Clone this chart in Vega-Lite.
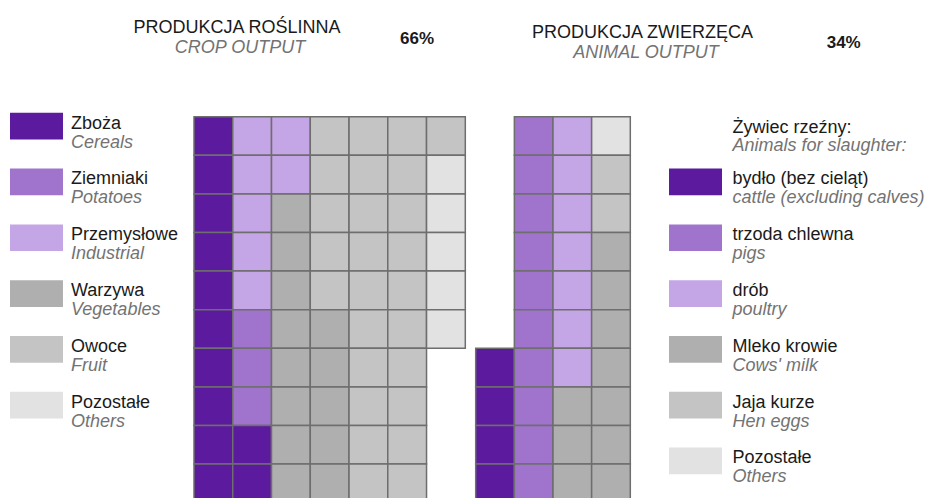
{
  "$schema": "https://vega.github.io/schema/vega-lite/v6.json",
  "width": 932,
  "height": 498,
  "padding": 0,
  "autosize": {"type": "none"},
  "config": {"view": {"stroke": null}, "font": "Liberation Sans"},
  "datasets": {
    "cells": [
      {"p":"crop","c":0,"r":0,"cat":"Zboża"},{"p":"crop","c":0,"r":1,"cat":"Zboża"},{"p":"crop","c":0,"r":2,"cat":"Zboża"},{"p":"crop","c":0,"r":3,"cat":"Zboża"},{"p":"crop","c":0,"r":4,"cat":"Zboża"},{"p":"crop","c":0,"r":5,"cat":"Zboża"},{"p":"crop","c":0,"r":6,"cat":"Zboża"},{"p":"crop","c":0,"r":7,"cat":"Zboża"},{"p":"crop","c":0,"r":8,"cat":"Zboża"},{"p":"crop","c":0,"r":9,"cat":"Zboża"},
      {"p":"crop","c":1,"r":0,"cat":"Przemysłowe"},{"p":"crop","c":1,"r":1,"cat":"Przemysłowe"},{"p":"crop","c":1,"r":2,"cat":"Przemysłowe"},{"p":"crop","c":1,"r":3,"cat":"Przemysłowe"},{"p":"crop","c":1,"r":4,"cat":"Przemysłowe"},{"p":"crop","c":1,"r":5,"cat":"Ziemniaki"},{"p":"crop","c":1,"r":6,"cat":"Ziemniaki"},{"p":"crop","c":1,"r":7,"cat":"Ziemniaki"},{"p":"crop","c":1,"r":8,"cat":"Zboża"},{"p":"crop","c":1,"r":9,"cat":"Zboża"},
      {"p":"crop","c":2,"r":0,"cat":"Przemysłowe"},{"p":"crop","c":2,"r":1,"cat":"Przemysłowe"},{"p":"crop","c":2,"r":2,"cat":"Warzywa"},{"p":"crop","c":2,"r":3,"cat":"Warzywa"},{"p":"crop","c":2,"r":4,"cat":"Warzywa"},{"p":"crop","c":2,"r":5,"cat":"Warzywa"},{"p":"crop","c":2,"r":6,"cat":"Warzywa"},{"p":"crop","c":2,"r":7,"cat":"Warzywa"},{"p":"crop","c":2,"r":8,"cat":"Warzywa"},{"p":"crop","c":2,"r":9,"cat":"Warzywa"},
      {"p":"crop","c":3,"r":0,"cat":"Owoce"},{"p":"crop","c":3,"r":1,"cat":"Owoce"},{"p":"crop","c":3,"r":2,"cat":"Owoce"},{"p":"crop","c":3,"r":3,"cat":"Owoce"},{"p":"crop","c":3,"r":4,"cat":"Owoce"},{"p":"crop","c":3,"r":5,"cat":"Warzywa"},{"p":"crop","c":3,"r":6,"cat":"Warzywa"},{"p":"crop","c":3,"r":7,"cat":"Warzywa"},{"p":"crop","c":3,"r":8,"cat":"Warzywa"},{"p":"crop","c":3,"r":9,"cat":"Warzywa"},
      {"p":"crop","c":4,"r":0,"cat":"Owoce"},{"p":"crop","c":4,"r":1,"cat":"Owoce"},{"p":"crop","c":4,"r":2,"cat":"Owoce"},{"p":"crop","c":4,"r":3,"cat":"Owoce"},{"p":"crop","c":4,"r":4,"cat":"Owoce"},{"p":"crop","c":4,"r":5,"cat":"Owoce"},{"p":"crop","c":4,"r":6,"cat":"Owoce"},{"p":"crop","c":4,"r":7,"cat":"Owoce"},{"p":"crop","c":4,"r":8,"cat":"Owoce"},{"p":"crop","c":4,"r":9,"cat":"Owoce"},
      {"p":"crop","c":5,"r":0,"cat":"Owoce"},{"p":"crop","c":5,"r":1,"cat":"Owoce"},{"p":"crop","c":5,"r":2,"cat":"Owoce"},{"p":"crop","c":5,"r":3,"cat":"Owoce"},{"p":"crop","c":5,"r":4,"cat":"Owoce"},{"p":"crop","c":5,"r":5,"cat":"Owoce"},{"p":"crop","c":5,"r":6,"cat":"Owoce"},{"p":"crop","c":5,"r":7,"cat":"Owoce"},{"p":"crop","c":5,"r":8,"cat":"Owoce"},{"p":"crop","c":5,"r":9,"cat":"Owoce"},
      {"p":"crop","c":6,"r":0,"cat":"Owoce"},{"p":"crop","c":6,"r":1,"cat":"Pozostałe"},{"p":"crop","c":6,"r":2,"cat":"Pozostałe"},{"p":"crop","c":6,"r":3,"cat":"Pozostałe"},{"p":"crop","c":6,"r":4,"cat":"Pozostałe"},{"p":"crop","c":6,"r":5,"cat":"Pozostałe"},
      {"p":"animal","c":0,"r":6,"cat":"bydło (bez cieląt)"},{"p":"animal","c":0,"r":7,"cat":"bydło (bez cieląt)"},{"p":"animal","c":0,"r":8,"cat":"bydło (bez cieląt)"},{"p":"animal","c":0,"r":9,"cat":"bydło (bez cieląt)"},
      {"p":"animal","c":1,"r":0,"cat":"trzoda chlewna"},{"p":"animal","c":1,"r":1,"cat":"trzoda chlewna"},{"p":"animal","c":1,"r":2,"cat":"trzoda chlewna"},{"p":"animal","c":1,"r":3,"cat":"trzoda chlewna"},{"p":"animal","c":1,"r":4,"cat":"trzoda chlewna"},{"p":"animal","c":1,"r":5,"cat":"trzoda chlewna"},{"p":"animal","c":1,"r":6,"cat":"trzoda chlewna"},{"p":"animal","c":1,"r":7,"cat":"trzoda chlewna"},{"p":"animal","c":1,"r":8,"cat":"trzoda chlewna"},{"p":"animal","c":1,"r":9,"cat":"trzoda chlewna"},
      {"p":"animal","c":2,"r":0,"cat":"drób"},{"p":"animal","c":2,"r":1,"cat":"drób"},{"p":"animal","c":2,"r":2,"cat":"drób"},{"p":"animal","c":2,"r":3,"cat":"drób"},{"p":"animal","c":2,"r":4,"cat":"drób"},{"p":"animal","c":2,"r":5,"cat":"drób"},{"p":"animal","c":2,"r":6,"cat":"drób"},{"p":"animal","c":2,"r":7,"cat":"Mleko krowie"},{"p":"animal","c":2,"r":8,"cat":"Mleko krowie"},{"p":"animal","c":2,"r":9,"cat":"Mleko krowie"},
      {"p":"animal","c":3,"r":0,"cat":"Pozostałe"},{"p":"animal","c":3,"r":1,"cat":"Jaja kurze"},{"p":"animal","c":3,"r":2,"cat":"Jaja kurze"},{"p":"animal","c":3,"r":3,"cat":"Mleko krowie"},{"p":"animal","c":3,"r":4,"cat":"Mleko krowie"},{"p":"animal","c":3,"r":5,"cat":"Mleko krowie"},{"p":"animal","c":3,"r":6,"cat":"Mleko krowie"},{"p":"animal","c":3,"r":7,"cat":"Mleko krowie"},{"p":"animal","c":3,"r":8,"cat":"Mleko krowie"},{"p":"animal","c":3,"r":9,"cat":"Mleko krowie"}
    ],
    "legend": [
      {"side":"crop","slot":0,"pl":"Zboża","en":"Cereals"},
      {"side":"crop","slot":1,"pl":"Ziemniaki","en":"Potatoes"},
      {"side":"crop","slot":2,"pl":"Przemysłowe","en":"Industrial"},
      {"side":"crop","slot":3,"pl":"Warzywa","en":"Vegetables"},
      {"side":"crop","slot":4,"pl":"Owoce","en":"Fruit"},
      {"side":"crop","slot":5,"pl":"Pozostałe","en":"Others"},
      {"side":"animal","slot":1,"pl":"bydło (bez cieląt)","en":"cattle (excluding calves)"},
      {"side":"animal","slot":2,"pl":"trzoda chlewna","en":"pigs"},
      {"side":"animal","slot":3,"pl":"drób","en":"poultry"},
      {"side":"animal","slot":4,"pl":"Mleko krowie","en":"Cows' milk"},
      {"side":"animal","slot":5,"pl":"Jaja kurze","en":"Hen eggs"},
      {"side":"animal","slot":6,"pl":"Pozostałe","en":"Others"}
    ],
    "header": [
      {"side":"animal","slot":0,"pl":"Żywiec rzeźny:","en":"Animals for slaughter:"}
    ],
    "titles": [
      {"p":"crop","pl":"PRODUKCJA ROŚLINNA","en":"CROP OUTPUT","pct":"66%"},
      {"p":"animal","pl":"PRODUKCJA ZWIERZĘCA","en":"ANIMAL OUTPUT","pct":"34%"}
    ]
  },
  "resolve": {"scale": {"x": "independent", "y": "independent"}},
  "layer": [
    {
      "data": {"name": "cells"},
      "transform": [{"filter": "datum.p == 'crop'"}],
      "mark": {"type": "rect", "stroke": "#6e6e6e", "strokeWidth": 1.5},
      "encoding": {
        "x": {"field": "c", "type": "ordinal", "axis": null, "scale": {"domain": [0,1,2,3,4,5,6], "range": [194, 465.3], "paddingInner": 0, "paddingOuter": 0}},
        "y": {"field": "r", "type": "ordinal", "axis": null, "scale": {"domain": [0,1,2,3,4,5,6,7,8,9], "range": [116.7, 502.7], "paddingInner": 0, "paddingOuter": 0}},
        "color": {"field": "cat", "type": "nominal", "legend": null, "scale": {"domain": ["Zboża","Ziemniaki","Przemysłowe","Warzywa","Owoce","Pozostałe","bydło (bez cieląt)","trzoda chlewna","drób","Mleko krowie","Jaja kurze"], "range": ["#5c1a9e","#a074cc","#c4a5e5","#aeafae","#c4c4c4","#e2e2e2","#5c1a9e","#a074cc","#c4a5e5","#aeafae","#c4c4c4"]}}
      }
    },
    {
      "data": {"name": "cells"},
      "transform": [{"filter": "datum.p == 'animal'"}],
      "mark": {"type": "rect", "stroke": "#6e6e6e", "strokeWidth": 1.5},
      "encoding": {
        "x": {"field": "c", "type": "ordinal", "axis": null, "scale": {"domain": [0,1,2,3], "range": [475.7, 630.3], "paddingInner": 0, "paddingOuter": 0}},
        "y": {"field": "r", "type": "ordinal", "axis": null, "scale": {"domain": [0,1,2,3,4,5,6,7,8,9], "range": [116.7, 502.7], "paddingInner": 0, "paddingOuter": 0}},
        "color": {"field": "cat", "type": "nominal", "legend": null}
      }
    },
    {
      "data": {"name": "legend"},
      "mark": {"type": "rect"},
      "encoding": {
        "x": {"field": "side", "type": "nominal", "axis": null, "scale": {"type": "band", "domain": ["crop","animal"], "range": [10, 722], "paddingInner": 0.9196, "paddingOuter": 0}},
        "y": {"field": "slot", "type": "ordinal", "axis": null, "scale": {"type": "band", "domain": [0,1,2,3,4,5,6], "range": [112.8, 474.3], "paddingInner": 0.5215, "paddingOuter": 0}},
        "color": {"field": "pl", "type": "nominal", "legend": null}
      }
    },
    {
      "data": {"name": "legend"},
      "mark": {"type": "text", "align": "left", "baseline": "alphabetic", "dy": 15.8, "fontSize": 18, "fill": "#1a1a1a"},
      "encoding": {
        "x": {"field": "side", "type": "nominal", "axis": null, "scale": {"type": "point", "domain": ["crop","animal"], "range": [71, 732.5], "padding": 0}},
        "y": {"field": "slot", "type": "quantitative", "axis": null, "scale": {"domain": [0, 6], "range": [112.8, 447.6], "zero": false, "nice": false}},
        "text": {"field": "pl"}
      }
    },
    {
      "data": {"name": "legend"},
      "mark": {"type": "text", "align": "left", "baseline": "alphabetic", "dy": 34.8, "fontSize": 18, "fontStyle": "italic", "fill": "#737373"},
      "encoding": {
        "x": {"field": "side", "type": "nominal", "axis": null, "scale": {"type": "point", "domain": ["crop","animal"], "range": [71, 732.5], "padding": 0}},
        "y": {"field": "slot", "type": "quantitative", "axis": null, "scale": {"domain": [0, 6], "range": [112.8, 447.6], "zero": false, "nice": false}},
        "text": {"field": "en"}
      }
    },
    {
      "data": {"name": "header"},
      "mark": {"type": "text", "align": "left", "baseline": "alphabetic", "dy": 19.8, "fontSize": 18, "fill": "#1a1a1a"},
      "encoding": {
        "x": {"field": "side", "type": "nominal", "axis": null, "scale": {"type": "point", "domain": ["crop","animal"], "range": [71, 732.5], "padding": 0}},
        "y": {"field": "slot", "type": "quantitative", "axis": null, "scale": {"domain": [0, 6], "range": [112.8, 447.6], "zero": false, "nice": false}},
        "text": {"field": "pl"}
      }
    },
    {
      "data": {"name": "header"},
      "mark": {"type": "text", "align": "left", "baseline": "alphabetic", "dy": 38.3, "fontSize": 18, "fontStyle": "italic", "fill": "#737373"},
      "encoding": {
        "x": {"field": "side", "type": "nominal", "axis": null, "scale": {"type": "point", "domain": ["crop","animal"], "range": [71, 732.5], "padding": 0}},
        "y": {"field": "slot", "type": "quantitative", "axis": null, "scale": {"domain": [0, 6], "range": [112.8, 447.6], "zero": false, "nice": false}},
        "text": {"field": "en"}
      }
    },
    {
      "data": {"name": "titles"},
      "mark": {"type": "text", "align": "center", "baseline": "alphabetic", "fontSize": 18, "fill": "#1a1a1a"},
      "encoding": {
        "x": {"field": "p", "type": "nominal", "axis": null, "scale": {"type": "point", "domain": ["crop","animal"], "range": [237, 642.5], "padding": 0}},
        "y": {"field": "p", "type": "nominal", "axis": null, "scale": {"type": "point", "domain": ["crop","animal"], "range": [33.3, 37.7], "padding": 0}},
        "text": {"field": "pl"}
      }
    },
    {
      "data": {"name": "titles"},
      "mark": {"type": "text", "align": "center", "baseline": "alphabetic", "fontSize": 18, "fontStyle": "italic", "fill": "#737373"},
      "encoding": {
        "x": {"field": "p", "type": "nominal", "axis": null, "scale": {"type": "point", "domain": ["crop","animal"], "range": [240, 646], "padding": 0}},
        "y": {"field": "p", "type": "nominal", "axis": null, "scale": {"type": "point", "domain": ["crop","animal"], "range": [52.5, 58], "padding": 0}},
        "text": {"field": "en"}
      }
    },
    {
      "data": {"name": "titles"},
      "mark": {"type": "text", "align": "left", "baseline": "alphabetic", "fontSize": 17, "fontWeight": "bold", "fill": "#1a1a1a"},
      "encoding": {
        "x": {"field": "p", "type": "nominal", "axis": null, "scale": {"type": "point", "domain": ["crop","animal"], "range": [400, 826.7], "padding": 0}},
        "y": {"field": "p", "type": "nominal", "axis": null, "scale": {"type": "point", "domain": ["crop","animal"], "range": [43.5, 48], "padding": 0}},
        "text": {"field": "pct"}
      }
    }
  ]
}
